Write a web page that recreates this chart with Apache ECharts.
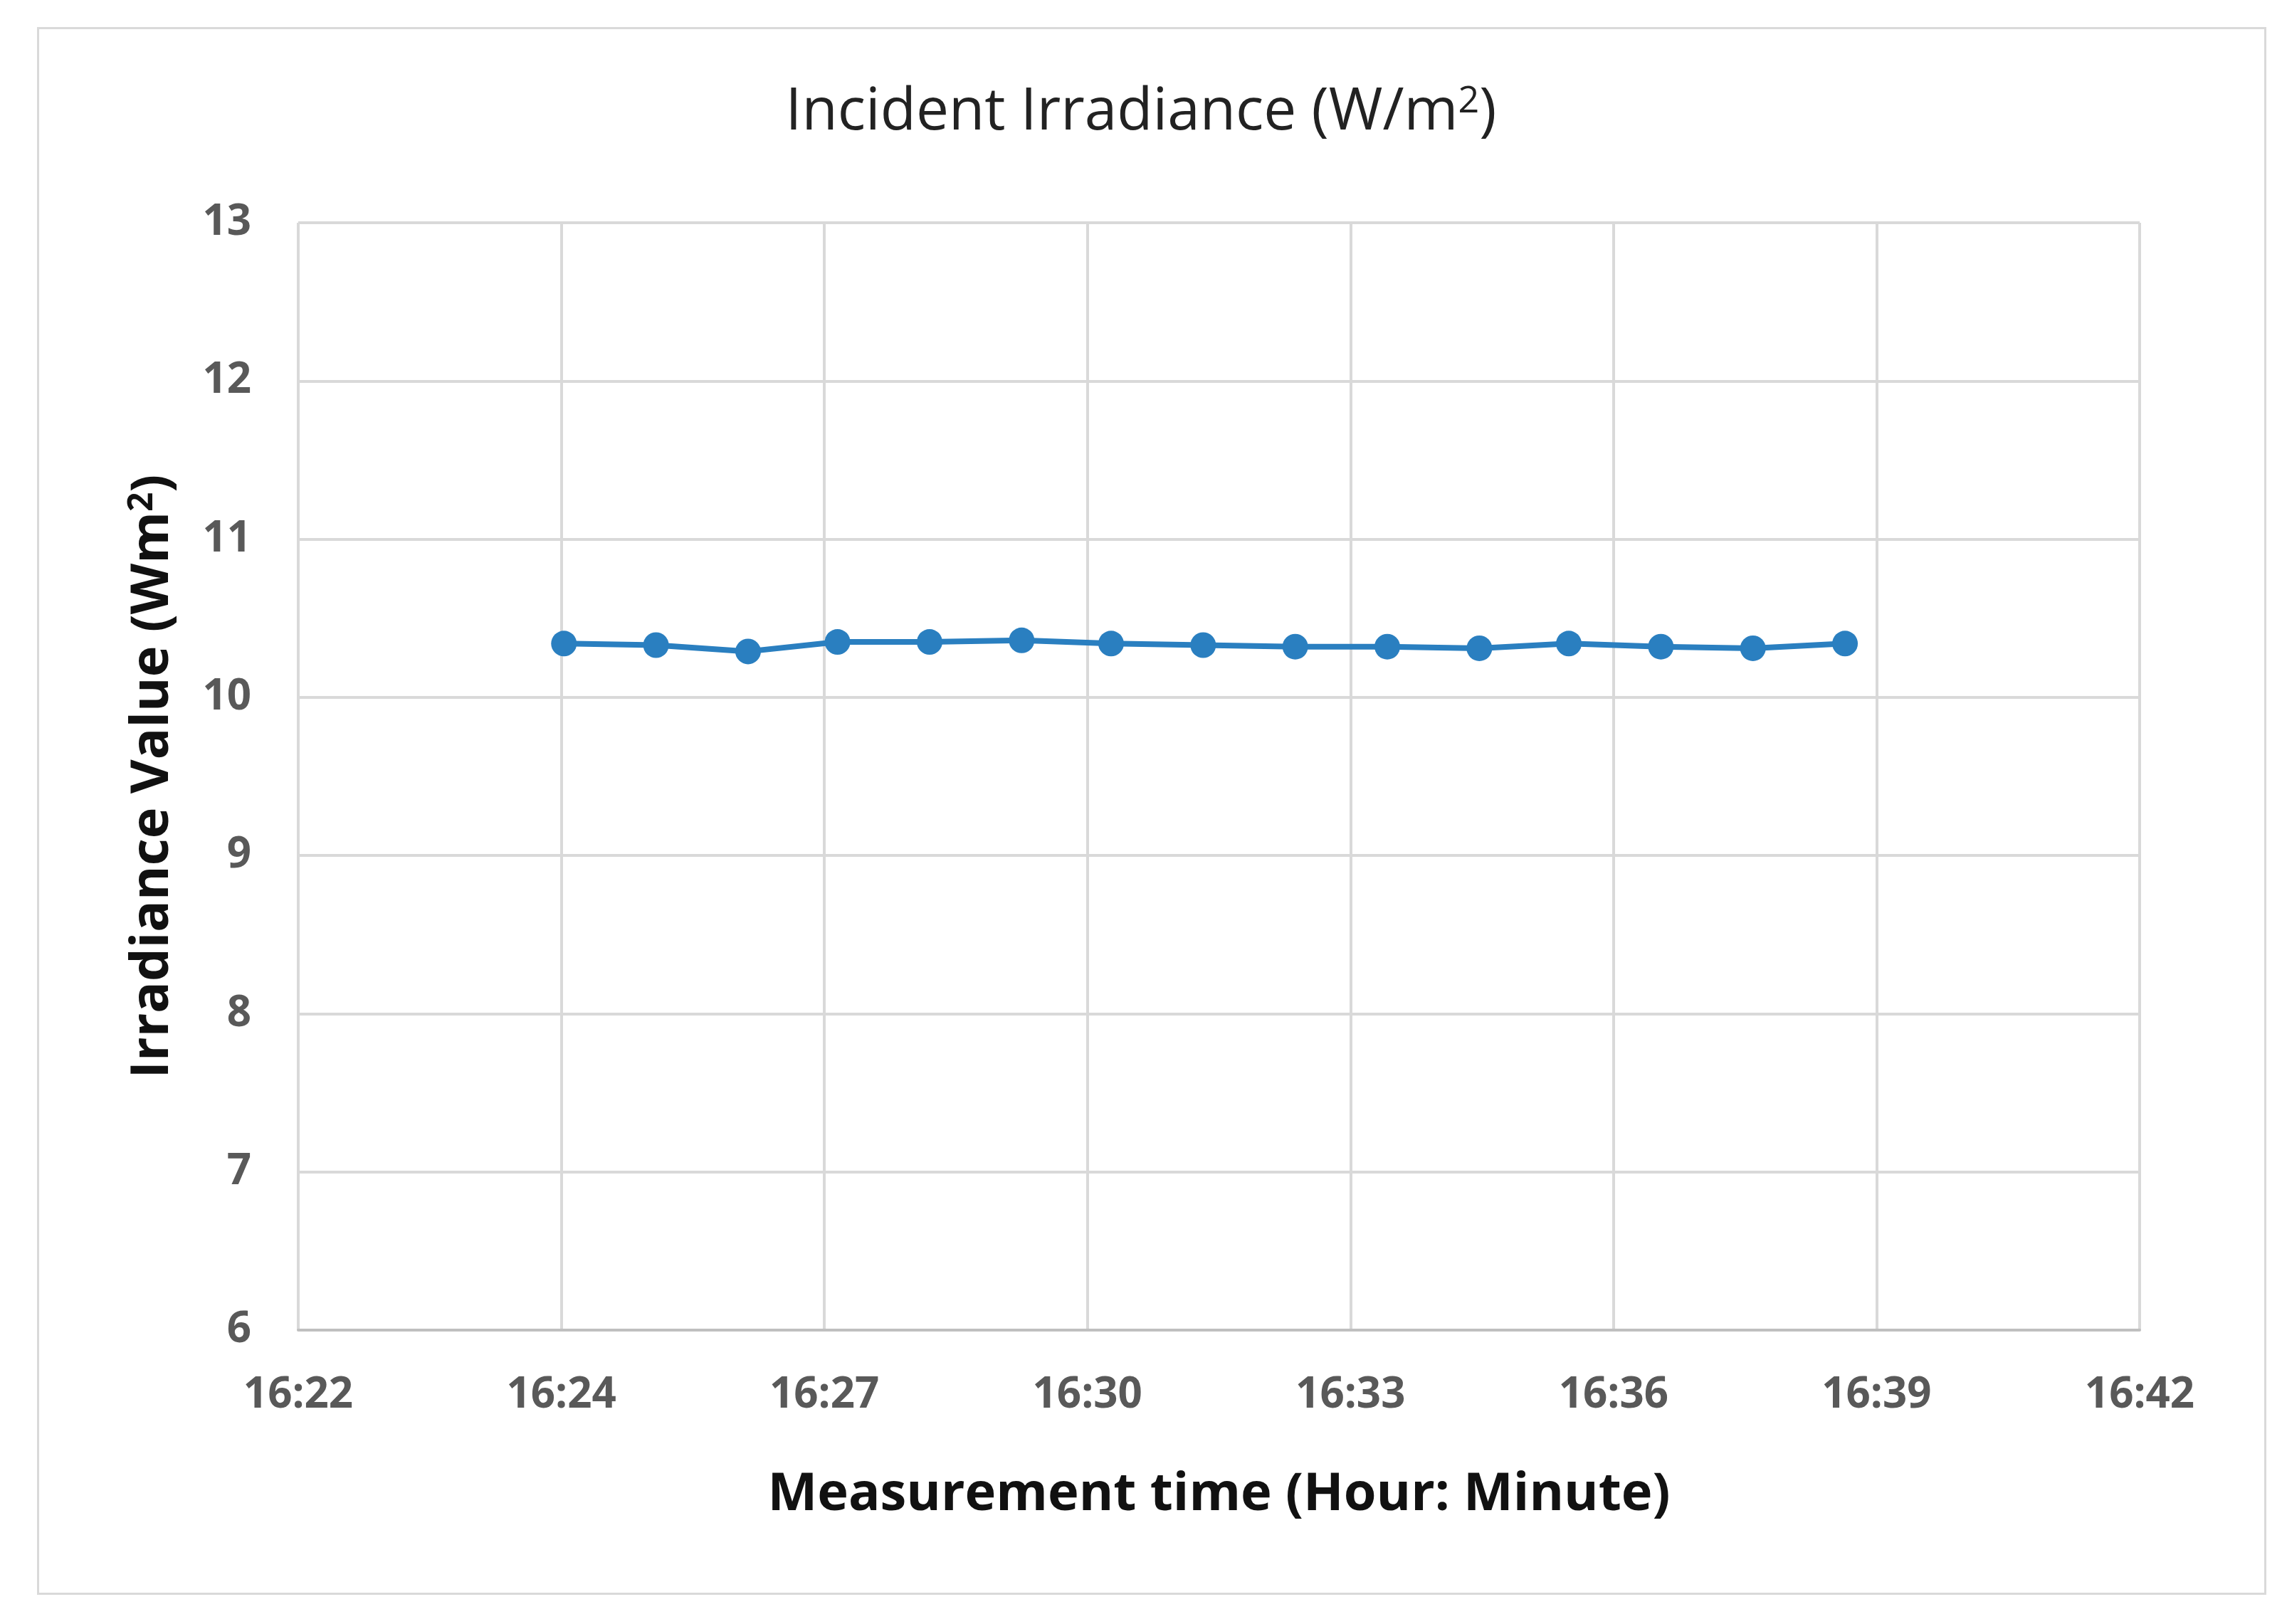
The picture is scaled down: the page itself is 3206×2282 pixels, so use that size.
<!DOCTYPE html>
<html>
<head>
<meta charset="utf-8">
<script src="https://cdn.jsdelivr.net/npm/echarts@6/dist/echarts.min.js"></script>
<style>html,body{margin:0;padding:0;background:#fff}#chart{width:3206px;height:2282px}</style>
</head>
<body>
<div id="chart"></div>
<script>
// x axis tick labels (evenly spaced ticks, Excel rounded labels)
var tickLabels = ['16:22', '16:24', '16:27', '16:30', '16:33', '16:36', '16:39', '16:42'];
// point positions in tick units (0 = first tick)
var xPos = [1.01, 1.36, 1.71, 2.05, 2.40, 2.75, 3.09, 3.44, 3.79, 4.14, 4.49, 4.83, 5.18, 5.53, 5.88];
var irradiance = [10.34, 10.33, 10.29, 10.35, 10.35, 10.36, 10.34, 10.33, 10.32, 10.32, 10.31, 10.34, 10.32, 10.31, 10.34];

var chart = echarts.init(document.getElementById('chart'));
var font = 'Open Sans, Noto Sans, sans-serif';
chart.setOption({
  backgroundColor: '#fff',
  animation: false,
  graphic: [{
    type: 'rect', left: 51, top: 37,
    shape: {width: 3129, height: 2200},
    style: {fill: 'none', stroke: '#d9d9d9', lineWidth: 3}
  }],
  title: {
    text: 'Incident Irradiance (W/m{sup|2})',
    left: 'center', top: 112,
    textStyle: {
      fontFamily: font, fontSize: 82, fontWeight: 'normal', color: '#222',
      rich: {sup: {fontSize: 52, verticalAlign: 'top', padding: [0, 0, 32, 0], color: '#222', fontFamily: font}}
    }
  },
  grid: {left: 419, right: 200, top: 313, bottom: 413},
  xAxis: {
    type: 'value', min: 0, max: 7, interval: 1,
    name: 'Measurement time (Hour: Minute)',
    nameLocation: 'middle', nameGap: 195,
    nameTextStyle: {fontFamily: font, fontSize: 74, fontWeight: 'bold', color: '#111'},
    axisLine: {show: true, lineStyle: {color: '#bfbfbf', width: 4}},
    axisTick: {show: false},
    axisLabel: {
      margin: 62, fontFamily: font, fontSize: 60, fontWeight: 'bold', color: '#595959',
      formatter: function (v) { return tickLabels[Math.round(v)]; }
    },
    splitLine: {show: true, lineStyle: {color: '#d9d9d9', width: 4}}
  },
  yAxis: {
    type: 'value', min: 6, max: 13, interval: 1,
    name: 'Irradiance Value (Wm{sup|2})',
    nameLocation: 'middle', nameGap: 165,
    nameTextStyle: {
      fontFamily: font, fontSize: 74, fontWeight: 'bold', color: '#111',
      rich: {sup: {fontSize: 48, fontWeight: 'bold', color: '#111', verticalAlign: 'top', padding: [0, 0, 30, 0], fontFamily: font}}
    },
    axisLine: {show: false},
    axisTick: {show: false},
    axisLabel: {margin: 66, fontFamily: font, fontSize: 60, fontWeight: 'bold', color: '#595959'},
    splitLine: {show: true, lineStyle: {color: '#d9d9d9', width: 4}}
  },
  series: [{
    type: 'line',
    data: xPos.map(function (x, i) { return [x, irradiance[i]]; }),
    symbol: 'circle', symbolSize: 36,
    lineStyle: {color: '#2a7fc0', width: 8},
    itemStyle: {color: '#2a7fc0'}
  }]
});
</script>
</body>
</html>
